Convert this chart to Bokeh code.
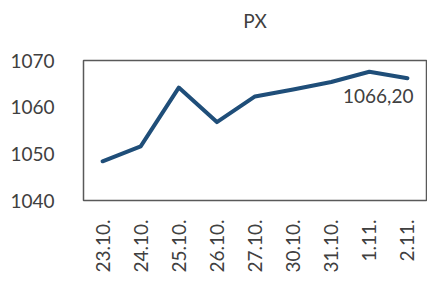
from bokeh.plotting import figure
from bokeh.embed import file_html
from bokeh.resources import INLINE
from bokeh.models import FixedTicker, Range1d, ColumnDataSource, Title
from bokeh.core.properties import value
import math

dates = ["23.10.", "24.10.", "25.10.", "26.10.", "27.10.", "30.10.", "31.10.", "1.11.", "2.11."]
px = [1048.4, 1051.6, 1064.2, 1056.8, 1062.3, 1063.8, 1065.4, 1067.6, 1066.2]
y_ticks = [1040, 1050, 1060, 1070]
last_label = "1066,20"
title_text = "PX"

FONT = "Lato"
FS = "19px"
TXT = "#404040"

p = figure(x_range=dates, y_range=Range1d(1040, 1070), width=427, height=275,
           output_backend="svg", toolbar_location=None, title=title_text,
           min_border_left=83, min_border_right=1, min_border_top=60, min_border_bottom=73)

p.line(x=dates, y=px, line_color="#1F4E79", line_width=4, line_join="round", line_cap="round")

src = ColumnDataSource(dict(x=[dates[-1]], y=[px[-1]], t=[last_label]))
p.text(x="x", y="y", text="t", source=src, text_align="right", text_baseline="top",
       x_offset=6, y_offset=11, text_font=value(FONT), text_font_size=FS, text_color=TXT)

p.title.align = "center"
p.title.vertical_align = "top"
p.title.text_font = FONT
p.title.text_font_size = FS
p.title.text_font_style = "normal"
p.title.text_color = TXT
p.title.offset = -6
p.title.standoff = 17

# blank spacer between the title and the plot frame
p.add_layout(Title(text=" ", text_font_size="1px", standoff=15), "above")

p.xgrid.visible = False
p.ygrid.visible = False
p.outline_line_color = "#595959"
p.outline_line_width = 1.5

p.yaxis.ticker = FixedTicker(ticks=y_ticks)
p.yaxis.axis_line_color = None
p.yaxis.major_tick_line_color = None
p.yaxis.minor_tick_line_color = None
p.yaxis.major_label_standoff = 23
p.yaxis.major_label_text_font = FONT
p.yaxis.major_label_text_font_size = FS
p.yaxis.major_label_text_color = TXT

p.xaxis.axis_line_color = None
p.xaxis.major_tick_line_color = None
p.xaxis.major_label_orientation = math.pi / 2
p.xaxis.major_label_standoff = 13
p.xaxis.major_label_text_font = FONT
p.xaxis.major_label_text_font_size = FS
p.xaxis.major_label_text_color = TXT

p.x_range.range_padding = 0

open("out.html", "w").write(file_html(p, INLINE))
